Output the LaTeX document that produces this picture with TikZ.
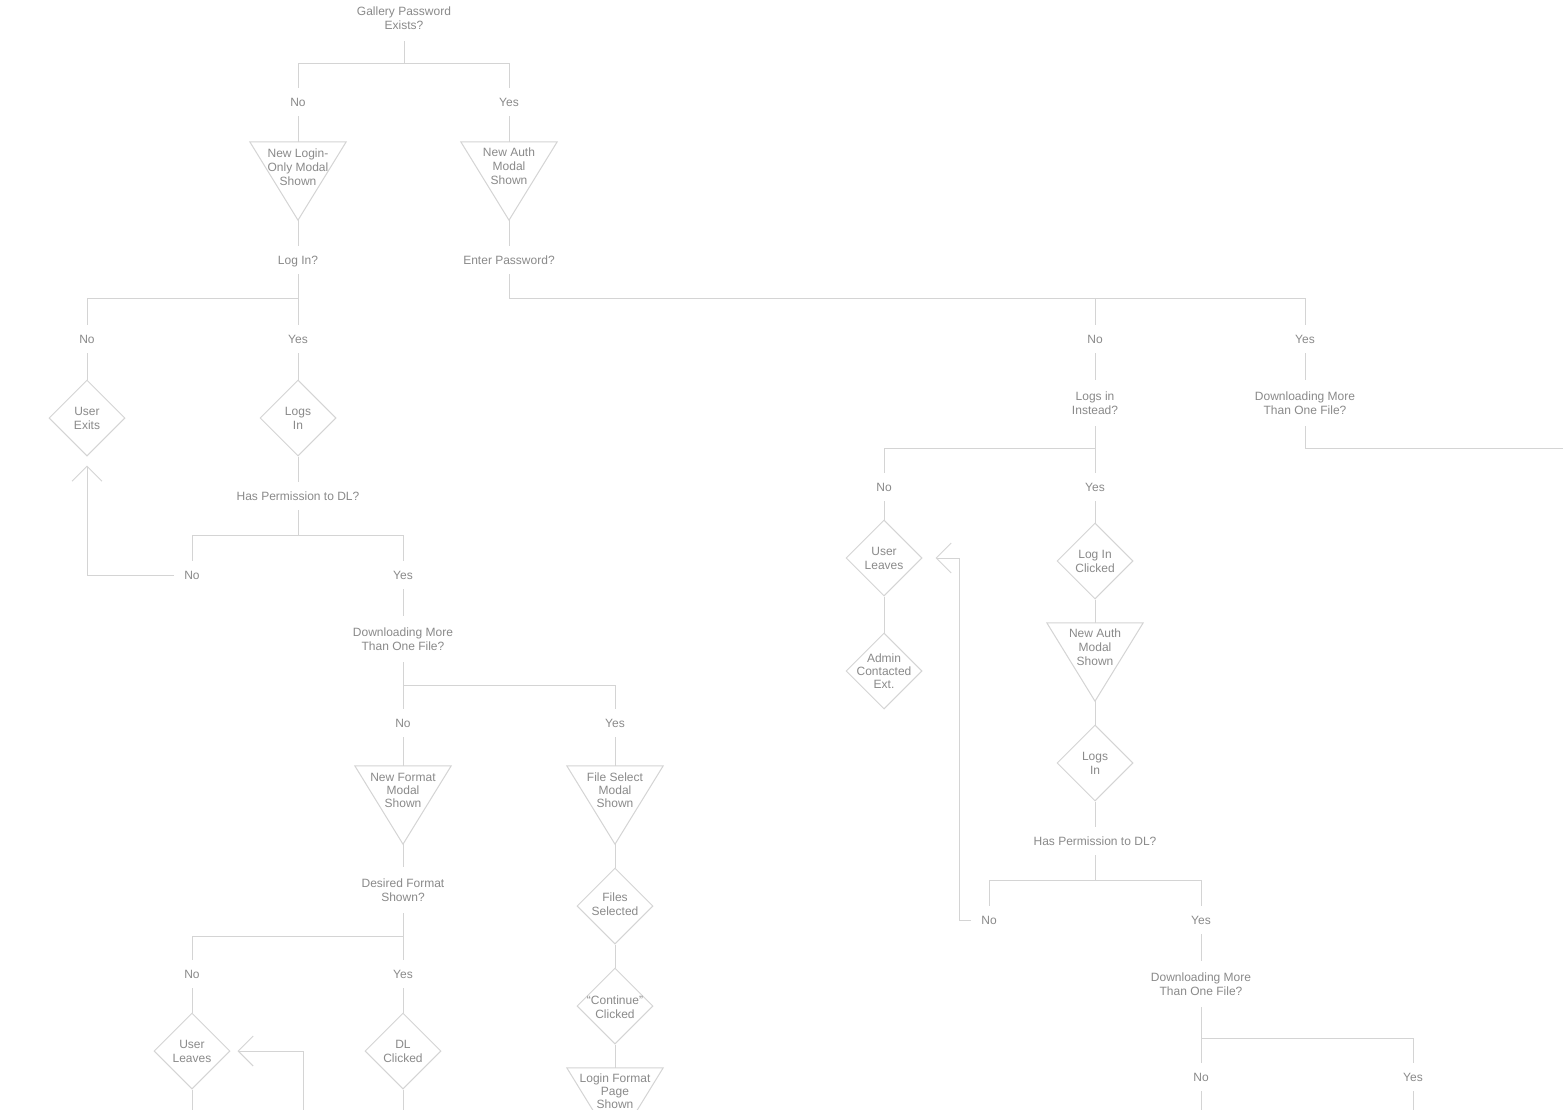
\documentclass[tikz,border=0pt]{standalone}
\usepackage{fontspec}
\setmainfont{Liberation Sans}
\usetikzlibrary{shapes.geometric,arrows.meta}
\definecolor{txt}{RGB}{138,138,138}
\definecolor{ln}{RGB}{212,212,212}
\begin{document}
\begin{tikzpicture}[x=1pt,y=-1pt,
  every node/.style={font=\fontsize{12pt}{14pt}\selectfont, text=txt},
  lbl/.style={inner xsep=10pt, inner ysep=0pt, minimum height=28pt, text height=10.8pt, text depth=1.2pt},
  lbltwo/.style={align=center, inner xsep=6pt, inner ysep=0pt, minimum height=46pt},
  conn/.style={draw=ln, line width=1pt},
  arr/.style={conn, -{Straight Barb[length=15pt,width=30pt]}},
  dia/.style={diamond, draw=ln, line width=1pt, minimum width=76pt, minimum height=76pt, inner sep=0pt},
  tribox/.style={minimum width=96pt, minimum height=78pt, inner sep=0pt},
  tri/.style={draw=ln, line width=1pt, line join=miter},
  intext/.style={align=center, inner sep=0pt},
  intextt/.style={align=center, inner sep=0pt, font=\fontsize{12pt}{13pt}\selectfont},
]
\fill[white] (0,0) rectangle (1563,1110);
\useasboundingbox (0,0) rectangle (1563,1110);
\clip (0,0) rectangle (1563,1110);

% ---------- top ----------
\node[lbltwo] (q1) at (404,18) {Gallery Password\\Exists?};
\node[lbl] (n1) at (298,102) {No};
\node[lbl] (y1) at (509,102) {Yes};
\draw[conn] (q1.south) -- ++(0,22) coordinate (b1);
\draw[conn] (n1.north) |- (b1) -| (y1.north);

\node[tribox] (t1) at (298,181) {};
\draw[tri] (t1.north west) -- (t1.north east) -- (t1.south) -- cycle;
\node[intext] at (298,167) {New Login-\\Only Modal\\Shown};
\node[tribox] (t2) at (509,181) {};
\draw[tri] (t2.north west) -- (t2.north east) -- (t2.south) -- cycle;
\node[intext] at (509,166) {New Auth\\Modal\\Shown};
\draw[conn] (n1.south) -- (t1.north);
\draw[conn] (y1.south) -- (t2.north);

\node[lbl] (q2) at (298,260) {Log In?};
\node[lbl] (q3) at (509,260) {Enter Password?};
\draw[conn] (t1.south) -- (q2.north);
\draw[conn] (t2.south) -- (q3.north);

% ---------- left: log in ----------
\node[lbl] (n2) at (87,339) {No};
\node[lbl] (y2) at (298,339) {Yes};
\draw[conn] (q2.south) -- (y2.north);
\draw[conn] (q2.south) ++(0,24) coordinate (b2);
\draw[conn] (n2.north) |- (b2);

\node[dia] (d1) at (87,418) {};
\node[intext] at (d1) {User\\Exits};
\node[dia] (d2) at (298,418) {};
\node[intext] at (d2) {Logs\\In};
\draw[conn] (n2.south) -- (d1.north);
\draw[conn] (y2.south) -- (d2.north);

\node[lbl] (q4) at (298,496) {Has Permission to DL?};
\draw[conn] (d2.south) -- (q4.north);
\node[lbl] (n3) at (192,575) {No};
\node[lbl] (y3) at (403,575) {Yes};
\draw[conn] (q4.south) -- ++(0,25) coordinate (b4);
\draw[conn] (n3.north) |- (b4) -| (y3.north);
\draw[arr, shorten >=9pt] (n3.west) -| (d1.south);

\node[lbltwo] (q5) at (403,639) {Downloading More\\Than One File?};
\draw[conn] (y3.south) -- (q5.north);
\node[lbl] (n4) at (403,723) {No};
\node[lbl] (y4) at (615,723) {Yes};
\draw[conn] (q5.south) -- (n4.north);
\draw[conn] (q5.south) ++(0,23) coordinate (b5);
\draw[conn] (b5) -| (y4.north);

\node[tribox] (t3) at (403,805) {};
\draw[tri] (t3.north west) -- (t3.north east) -- (t3.south) -- cycle;
\node[intextt] at (403,790) {New Format\\Modal\\Shown};
\node[tribox] (t4) at (615,805) {};
\draw[tri] (t4.north west) -- (t4.north east) -- (t4.south) -- cycle;
\node[intextt] at (615,790) {File Select\\Modal\\Shown};
\draw[conn] (n4.south) -- (t3.north);
\draw[conn] (y4.south) -- (t4.north);

\node[lbltwo] (q6) at (403,890) {Desired Format\\Shown?};
\draw[conn] (t3.south) -- (q6.north);
\node[lbl] (n5) at (192,974) {No};
\node[lbl] (y5) at (403,974) {Yes};
\draw[conn] (q6.south) -- (y5.north);
\draw[conn] (q6.south) ++(0,23) coordinate (b6);
\draw[conn] (b6) -| (n5.north);

\node[dia] (d3) at (192,1051) {};
\node[intext] at (d3) {User\\Leaves};
\node[dia] (d4) at (403,1051) {};
\node[intext] at (d4) {DL\\Clicked};
\draw[conn] (n5.south) -- (d3.north);
\draw[conn] (y5.south) -- (d4.north);
\coordinate (e1) at (192,1110);
\coordinate (e2) at (403,1110);
\coordinate (e3) at (303,1110);
\draw[conn] (d3.south) -- (e1);
\draw[conn] (d4.south) -- (e2);
\draw[arr, shorten >=7pt] (e3) |- (d3.east);

\node[dia] (d5) at (615,906) {};
\node[intext, yshift=2pt] at (d5) {Files\\Selected};
\node[dia] (d6) at (615,1006) {};
\node[intext, yshift=-1.5pt] at (d6) {“Continue”\\Clicked};
\node[tribox] (t5) at (615,1107) {};
\draw[tri] (t5.north west) -- (t5.north east) -- (t5.south) -- cycle;
\node[intextt] at (615,1091) {Login Format\\Page\\Shown};
\draw[conn] (t4.south) -- (d5.north);
\draw[conn] (d5.south) -- (d6.north);
\draw[conn] (d6.south) -- (t5.north);

% ---------- right: enter password ----------
\node[lbl] (n6) at (1095,339) {No};
\node[lbl] (y6) at (1305,339) {Yes};
\draw[conn] (q3.south) -- ++(0,24) coordinate (b3) -| (y6.north);
\draw[conn] (b3 -| n6.north) -- (n6.north);

\node[lbltwo] (q7) at (1095,403) {Logs in\\Instead?};
\node[lbltwo] (q8) at (1305,403) {Downloading More\\Than One File?};
\draw[conn] (n6.south) -- (q7.north);
\draw[conn] (y6.south) -- (q8.north);
\coordinate (e6) at (1563,448);
\draw[conn] (q8.south) |- (e6);

\node[lbl] (n7) at (884,487) {No};
\node[lbl] (y7) at (1095,487) {Yes};
\draw[conn] (q7.south) -- (y7.north);
\draw[conn] (q7.south) ++(0,22) coordinate (b7);
\draw[conn] (b7) -| (n7.north);

\node[dia] (d7) at (884,558) {};
\node[intext] at (d7) {User\\Leaves};
\node[dia] (d8) at (884,671) {};
\node[intextt] at (d8) {Admin\\Contacted\\Ext.};
\draw[conn] (n7.south) -- (d7.north);
\draw[conn] (d7.south) -- (d8.north);

\node[dia] (d9) at (1095,561) {};
\node[intext] at (d9) {Log In\\Clicked};
\draw[conn] (y7.south) -- (d9.north);
\node[tribox] (t6) at (1095,662) {};
\draw[tri] (t6.north west) -- (t6.north east) -- (t6.south) -- cycle;
\node[intext] at (1095,647) {New Auth\\Modal\\Shown};
\draw[conn] (d9.south) -- (t6.north);
\node[dia] (d10) at (1095,763) {};
\node[intext] at (d10) {Logs\\In};
\draw[conn] (t6.south) -- (d10.north);

\node[lbl] (q9) at (1095,841) {Has Permission to DL?};
\draw[conn] (d10.south) -- (q9.north);
\node[lbl] (n8) at (989,920) {No};
\node[lbl] (y8) at (1201,920) {Yes};
\draw[conn] (q9.south) -- ++(0,25) coordinate (b9);
\draw[conn] (n8.north) |- (b9) -| (y8.north);
\draw[arr, shorten >=13pt] (n8.west) -- ++(-12,0) |- (d7.east);

\node[lbltwo] (q10) at (1201,984) {Downloading More\\Than One File?};
\draw[conn] (y8.south) -- (q10.north);
\node[lbl] (n9) at (1201,1077) {No};
\node[lbl] (y9) at (1413,1077) {Yes};
\draw[conn] (q10.south) -- (n9.north);
\draw[conn] (q10.south) ++(0,31) coordinate (b10);
\draw[conn] (b10) -| (y9.north);
\coordinate (e4) at (1201,1110);
\coordinate (e5) at (1413,1110);
\draw[conn] (n9.south) -- (e4);
\draw[conn] (y9.south) -- (e5);
\end{tikzpicture}
\end{document}
